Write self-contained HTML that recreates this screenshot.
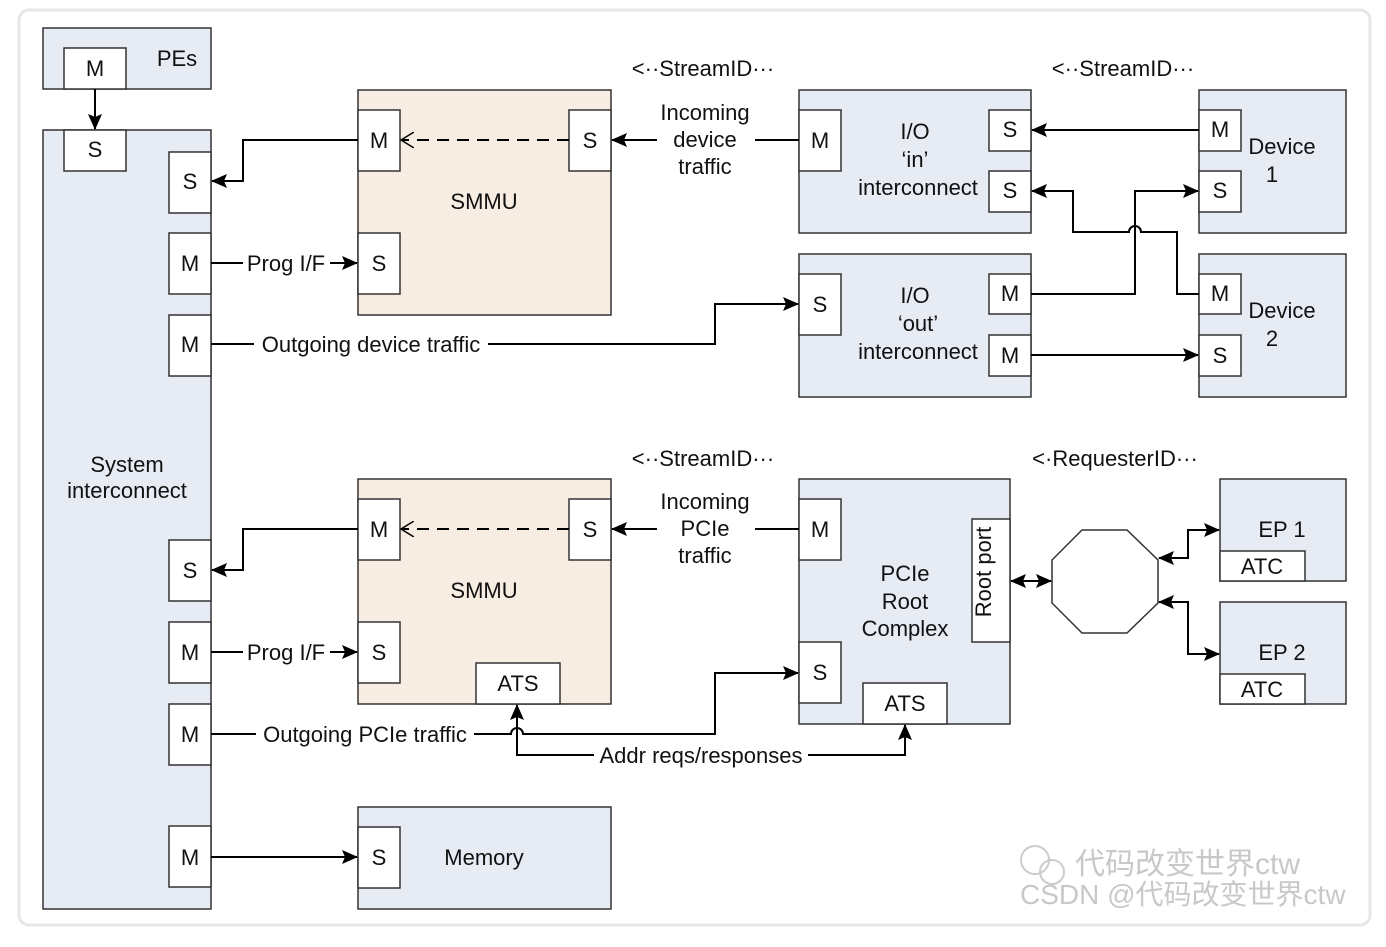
<!DOCTYPE html>
<html><head><meta charset="utf-8"><style>
body{margin:0;background:#fff;}
svg text{font-family:"Liberation Sans",sans-serif;font-size:22px;fill:#111;}
</style></head><body>
<svg width="1386" height="942" viewBox="0 0 1386 942" xmlns="http://www.w3.org/2000/svg">
<defs>
<marker id="a" markerWidth="16" markerHeight="16" refX="15" refY="8" orient="auto" markerUnits="userSpaceOnUse"><path d="M0,1 L16,8 L0,15 L3,8z" fill="#000"/></marker>
<marker id="as" markerWidth="16" markerHeight="16" refX="1" refY="8" orient="auto" markerUnits="userSpaceOnUse"><path d="M16,1 L0,8 L16,15 L13,8z" fill="#000"/></marker>
<marker id="o" markerWidth="14" markerHeight="16" refX="13" refY="8" orient="auto" markerUnits="userSpaceOnUse"><path d="M0,0 L13,8 L0,16" fill="none" stroke="#000" stroke-width="1.5"/></marker>
</defs>
<rect x="19" y="10" width="1351" height="915" rx="10" fill="#fff" stroke="#e6e6e6" stroke-width="3"/>
<g stroke="#333" stroke-width="1.5">
<rect x="43" y="28" width="168" height="61" fill="#e7ebf4"/>
<rect x="43" y="130" width="168" height="779" fill="#e7ebf4"/>
<rect x="358" y="90" width="253" height="225" fill="#f8ede3"/>
<rect x="358" y="479" width="253" height="225" fill="#f8ede3"/>
<rect x="358" y="807" width="253" height="102" fill="#e7ebf4"/>
<rect x="799" y="90" width="232" height="143" fill="#e7ebf4"/>
<rect x="799" y="254" width="232" height="143" fill="#e7ebf4"/>
<rect x="1199" y="90" width="147" height="143" fill="#e7ebf4"/>
<rect x="1199" y="254" width="147" height="143" fill="#e7ebf4"/>
<rect x="799" y="479" width="211" height="245" fill="#e7ebf4"/>
<rect x="1220" y="479" width="126" height="102" fill="#e7ebf4"/>
<rect x="1220" y="602" width="126" height="102" fill="#e7ebf4"/>
<g fill="#fff">
<rect x="64" y="48" width="62" height="41"/>
<rect x="64" y="130" width="62" height="41"/>
<rect x="169" y="152" width="42" height="61"/>
<rect x="169" y="233" width="42" height="61"/>
<rect x="169" y="315" width="42" height="61"/>
<rect x="169" y="540" width="42" height="61"/>
<rect x="169" y="622" width="42" height="61"/>
<rect x="169" y="704" width="42" height="61"/>
<rect x="169" y="826" width="42" height="61"/>
<rect x="358" y="110" width="42" height="61"/>
<rect x="569" y="110" width="42" height="61"/>
<rect x="358" y="233" width="42" height="61"/>
<rect x="358" y="499" width="42" height="61"/>
<rect x="569" y="499" width="42" height="61"/>
<rect x="358" y="622" width="42" height="61"/>
<rect x="476" y="663" width="84" height="41"/>
<rect x="358" y="827" width="42" height="61"/>
<rect x="799" y="110" width="42" height="61"/>
<rect x="989" y="110" width="42" height="41"/>
<rect x="989" y="171" width="42" height="41"/>
<rect x="799" y="274" width="42" height="61"/>
<rect x="989" y="274" width="42" height="40"/>
<rect x="989" y="335" width="42" height="41"/>
<rect x="1199" y="110" width="42" height="41"/>
<rect x="1199" y="171" width="42" height="41"/>
<rect x="1199" y="274" width="42" height="40"/>
<rect x="1199" y="335" width="42" height="41"/>
<rect x="799" y="499" width="42" height="61"/>
<rect x="799" y="642" width="42" height="61"/>
<rect x="863" y="683" width="84" height="41"/>
<rect x="972" y="519" width="38" height="123"/>
<rect x="1220" y="551" width="85" height="30"/>
<rect x="1220" y="674" width="85" height="30"/>
<polygon points="1082,530 1127,530 1158,560 1158,603 1127,633 1082,633 1052,603 1052,560"/>
</g>
</g>
<g stroke="#000" stroke-width="2" fill="none">
<path d="M95,89 V129" marker-end="url(#a)"/>
<path d="M358,140 H243 V181 H212" marker-end="url(#a)"/>
<path d="M358,529 H243 V570 H212" marker-end="url(#a)"/>
<path d="M569,140 H401" stroke-dasharray="12,8" marker-end="url(#o)"/>
<path d="M569,529 H401" stroke-dasharray="12,8" marker-end="url(#o)"/>
<path d="M799,140 H755 M657,140 H612" marker-end="url(#a)"/>
<path d="M799,529 H755 M657,529 H612" marker-end="url(#a)"/>
<path d="M211,263 H243 M330,263 H357" marker-end="url(#a)"/>
<path d="M211,652 H243 M330,652 H357" marker-end="url(#a)"/>
<path d="M211,344 H254 M488,344 H715 V304 H798" marker-end="url(#a)"/>
<path d="M211,734 H256 M474,734 H511 A6,6 0 0 1 523,734 H715 V673 H798" marker-end="url(#a)"/>
<path d="M1199,130 H1032" marker-end="url(#a)"/>
<path d="M1199,294 H1177 V232 H1141 A6,6 0 0 0 1129,232 H1073 V191 H1032" marker-end="url(#a)"/>
<path d="M1031,294 H1135 V191 H1198" marker-end="url(#a)"/>
<path d="M1031,355 H1198" marker-end="url(#a)"/>
<path d="M594,755 H517 V705" marker-end="url(#a)"/>
<path d="M808,755 H905 V725" marker-end="url(#a)"/>
<path d="M1011,581 H1051" marker-start="url(#as)" marker-end="url(#a)"/>
<path d="M1159,558 H1188 V530 H1219" marker-start="url(#as)" marker-end="url(#a)"/>
<path d="M1159,602 H1188 V654 H1219" marker-start="url(#as)" marker-end="url(#a)"/>
<path d="M211,857 H357" marker-end="url(#a)"/>
</g>
<g text-anchor="middle">
<text x="95" y="76">M</text><text x="177" y="66">PEs</text>
<text x="95" y="157">S</text>
<text x="190" y="189">S</text><text x="190" y="271">M</text><text x="190" y="352">M</text>
<text x="190" y="578">S</text><text x="190" y="660">M</text><text x="190" y="742">M</text><text x="190" y="865">M</text>
<text x="127" y="472">System</text><text x="127" y="498">interconnect</text>
<text x="379" y="148">M</text><text x="590" y="148">S</text><text x="379" y="271">S</text><text x="484" y="209">SMMU</text>
<text x="379" y="537">M</text><text x="590" y="537">S</text><text x="379" y="660">S</text><text x="484" y="598">SMMU</text><text x="518" y="691">ATS</text>
<text x="379" y="865">S</text><text x="484" y="865">Memory</text>
<text x="286" y="271">Prog I/F</text><text x="286" y="660">Prog I/F</text>
<text x="371" y="352">Outgoing device traffic</text>
<text x="365" y="742">Outgoing PCIe traffic</text>
<text x="701" y="763">Addr reqs/responses</text>
<text x="705" y="120">Incoming</text><text x="705" y="147">device</text><text x="705" y="174">traffic</text>
<text x="705" y="509">Incoming</text><text x="705" y="536">PCIe</text><text x="705" y="563">traffic</text>
<text x="703" y="76">&lt;··StreamID···</text><text x="1123" y="76">&lt;··StreamID···</text>
<text x="703" y="466">&lt;··StreamID···</text><text x="1115" y="466">&lt;·RequesterID···</text>
<text x="820" y="148">M</text><text x="1010" y="137">S</text><text x="1010" y="198">S</text>
<text x="915" y="139">I/O</text><text x="915" y="167">‘in’</text><text x="918" y="195">interconnect</text>
<text x="820" y="312">S</text><text x="1010" y="301">M</text><text x="1010" y="363">M</text>
<text x="915" y="303">I/O</text><text x="918" y="331">‘out’</text><text x="918" y="359">interconnect</text>
<text x="1220" y="137">M</text><text x="1220" y="198">S</text><text x="1282" y="154">Device</text><text x="1272" y="182">1</text>
<text x="1220" y="301">M</text><text x="1220" y="363">S</text><text x="1282" y="318">Device</text><text x="1272" y="346">2</text>
<text x="820" y="537">M</text><text x="820" y="680">S</text><text x="905" y="711">ATS</text>
<text x="905" y="581">PCIe</text><text x="905" y="609">Root</text><text x="905" y="636">Complex</text>
<text x="999" y="580" transform="rotate(-90 991 580)">Root port</text>
<text x="1282" y="537">EP 1</text><text x="1262" y="574">ATC</text>
<text x="1282" y="660">EP 2</text><text x="1262" y="697">ATC</text>
</g>
<g>
<text x="1075" y="874" style="font-family:'Liberation Sans','Noto Sans CJK SC',sans-serif;font-size:30px;fill:#c8c8c8">代码改变世界ctw</text>
<text x="1020" y="904" style="font-family:'Liberation Sans','Noto Sans CJK SC',sans-serif;font-size:28px;fill:#c8c8c8">CSDN @代码改变世界ctw</text>
<circle cx="1035" cy="860" r="14" fill="none" stroke="#ccc" stroke-width="2"/>
<circle cx="1052" cy="872" r="12" fill="none" stroke="#ccc" stroke-width="2"/>
</g>
</svg>
</body></html>
